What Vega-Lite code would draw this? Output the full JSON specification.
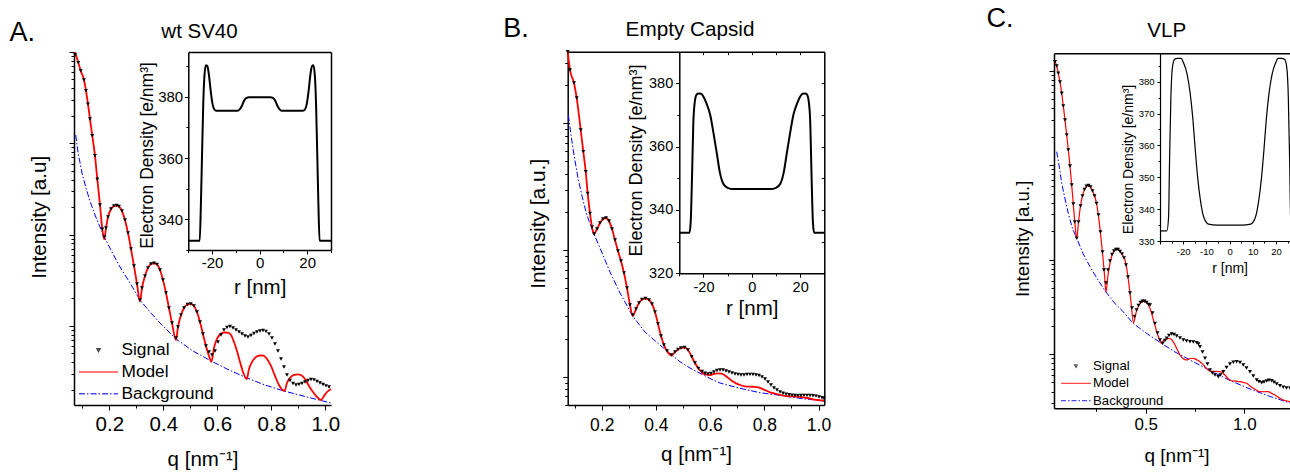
{
"$schema": "https://vega.github.io/schema/vega-lite/v6.json",
"width": 1290, "height": 473,
"autosize": {"type": "none"}, "padding": 0, "background": "white",
"config": {
  "view": {"stroke": null},
  "font": "Liberation Sans",
  "axis": {"grid": false, "labelFont": "Liberation Sans", "titleFont": "Liberation Sans", "labelColor": "#000", "titleColor": "#000", "domainColor": "#000", "tickColor": "#000", "titleFontWeight": "normal", "labelOverlap": false, "labelFlush": false, "domainWidth": 1.5, "tickWidth": 1, "minExtent": 0},
  "legend": {"labelFont": "Liberation Sans", "labelColor": "#000"}
},
"datasets": {
"A": [
{"series":"Signal","q":0.0733,"I":9270},{"series":"Signal","q":0.0852,"I":7640},{"series":"Signal","q":0.0941,"I":6240},{"series":"Signal","q":0.1063,"I":4930},{"series":"Signal","q":0.1137,"I":3770},{"series":"Signal","q":0.1211,"I":2690},{"series":"Signal","q":0.1285,"I":1845},{"series":"Signal","q":0.137,"I":1211},{"series":"Signal","q":0.147,"I":731},{"series":"Signal","q":0.1556,"I":404},{"series":"Signal","q":0.1656,"I":211},{"series":"Signal","q":0.1741,"I":114.3},{"series":"Signal","q":0.1815,"I":94.2},{"series":"Signal","q":0.1878,"I":118},{"series":"Signal","q":0.1952,"I":156},{"series":"Signal","q":0.2063,"I":190.6},{"series":"Signal","q":0.2174,"I":205.6},{"series":"Signal","q":0.2274,"I":208.4},{"series":"Signal","q":0.2359,"I":203.2},{"series":"Signal","q":0.247,"I":181.1},{"series":"Signal","q":0.2581,"I":144.5},{"series":"Signal","q":0.2693,"I":104.1},{"series":"Signal","q":0.2804,"I":69.5},{"series":"Signal","q":0.2915,"I":45.3},{"series":"Signal","q":0.3026,"I":28.8},{"series":"Signal","q":0.3137,"I":19.2},{"series":"Signal","q":0.3211,"I":26.0},{"series":"Signal","q":0.3322,"I":35.2},{"series":"Signal","q":0.3433,"I":43.1},{"series":"Signal","q":0.3544,"I":47.6},{"series":"Signal","q":0.3656,"I":48.5},{"series":"Signal","q":0.3767,"I":47.1},{"series":"Signal","q":0.3878,"I":40.9},{"series":"Signal","q":0.3989,"I":31.8},{"series":"Signal","q":0.41,"I":22.9},{"series":"Signal","q":0.4211,"I":15.7},{"series":"Signal","q":0.4322,"I":10.76},{"series":"Signal","q":0.447,"I":7.37},{"series":"Signal","q":0.4544,"I":9.72},{"series":"Signal","q":0.4656,"I":13.15},{"series":"Signal","q":0.4767,"I":15.7},{"series":"Signal","q":0.4896,"I":17.15},{"series":"Signal","q":0.5015,"I":17.38},{"series":"Signal","q":0.5137,"I":16.5},{"series":"Signal","q":0.5248,"I":14.2},{"series":"Signal","q":0.5359,"I":11.03},{"series":"Signal","q":0.547,"I":8.15},{"series":"Signal","q":0.5581,"I":6.03},{"series":"Signal","q":0.5693,"I":5.18},{"series":"Signal","q":0.5804,"I":4.8},{"series":"Signal","q":0.5915,"I":5.31},{"series":"Signal","q":0.6026,"I":6.66},{"series":"Signal","q":0.6137,"I":7.95},{"series":"Signal","q":0.6248,"I":9.02},{"series":"Signal","q":0.6359,"I":9.6},{"series":"Signal","q":0.647,"I":9.85},{"series":"Signal","q":0.6581,"I":9.48},{"series":"Signal","q":0.6693,"I":9.02},{"series":"Signal","q":0.6804,"I":8.58},{"series":"Signal","q":0.6915,"I":8.15},{"series":"Signal","q":0.7026,"I":7.75},{"series":"Signal","q":0.7137,"I":7.56},{"series":"Signal","q":0.7248,"I":7.85},{"series":"Signal","q":0.7359,"I":8.26},{"series":"Signal","q":0.747,"I":8.58},{"series":"Signal","q":0.7581,"I":8.8},{"series":"Signal","q":0.7693,"I":8.91},{"series":"Signal","q":0.7804,"I":8.69},{"series":"Signal","q":0.7915,"I":8.15},{"series":"Signal","q":0.8026,"I":7.37},{"series":"Signal","q":0.8137,"I":6.34},{"series":"Signal","q":0.8248,"I":5.31},{"series":"Signal","q":0.8359,"I":4.34},{"series":"Signal","q":0.847,"I":3.55},{"series":"Signal","q":0.8581,"I":2.9},{"series":"Signal","q":0.8693,"I":2.52},{"series":"Signal","q":0.8804,"I":2.34},{"series":"Signal","q":0.8915,"I":2.25},{"series":"Signal","q":0.9026,"I":2.28},{"series":"Signal","q":0.9137,"I":2.34},{"series":"Signal","q":0.9248,"I":2.43},{"series":"Signal","q":0.9359,"I":2.52},{"series":"Signal","q":0.947,"I":2.59},{"series":"Signal","q":0.9581,"I":2.56},{"series":"Signal","q":0.9693,"I":2.46},{"series":"Signal","q":0.9804,"I":2.37},{"series":"Signal","q":0.9915,"I":2.28},{"series":"Signal","q":1.0026,"I":2.2},{"series":"Signal","q":1.0137,"I":2.14},
{"series":"Model","q":0.073,"I":10000},{"series":"Model","q":0.0852,"I":7640},{"series":"Model","q":0.0941,"I":6240},{"series":"Model","q":0.1063,"I":4930},{"series":"Model","q":0.1137,"I":3770},{"series":"Model","q":0.1211,"I":2690},{"series":"Model","q":0.1285,"I":1845},{"series":"Model","q":0.137,"I":1211},{"series":"Model","q":0.147,"I":731},{"series":"Model","q":0.1556,"I":404},{"series":"Model","q":0.1656,"I":211},{"series":"Model","q":0.1741,"I":114.3},{"series":"Model","q":0.1815,"I":88.9},{"series":"Model","q":0.1878,"I":118},{"series":"Model","q":0.1952,"I":156},{"series":"Model","q":0.2063,"I":190.6},{"series":"Model","q":0.2174,"I":205.6},{"series":"Model","q":0.2274,"I":208.4},{"series":"Model","q":0.2359,"I":203.2},{"series":"Model","q":0.247,"I":181.1},{"series":"Model","q":0.2581,"I":144.5},{"series":"Model","q":0.2693,"I":104.1},{"series":"Model","q":0.2804,"I":69.5},{"series":"Model","q":0.2915,"I":45.3},{"series":"Model","q":0.3026,"I":28.8},{"series":"Model","q":0.3137,"I":18.4},{"series":"Model","q":0.3211,"I":26.0},{"series":"Model","q":0.3322,"I":35.2},{"series":"Model","q":0.3433,"I":43.1},{"series":"Model","q":0.3544,"I":47.6},{"series":"Model","q":0.3656,"I":48.5},{"series":"Model","q":0.3767,"I":47.1},{"series":"Model","q":0.3878,"I":40.9},{"series":"Model","q":0.3989,"I":31.8},{"series":"Model","q":0.41,"I":22.9},{"series":"Model","q":0.4211,"I":15.7},{"series":"Model","q":0.4322,"I":10.76},{"series":"Model","q":0.447,"I":7.01},{"series":"Model","q":0.4544,"I":9.72},{"series":"Model","q":0.4656,"I":13.15},{"series":"Model","q":0.4767,"I":15.7},{"series":"Model","q":0.4896,"I":17.15},{"series":"Model","q":0.5015,"I":17.38},{"series":"Model","q":0.5137,"I":16.5},{"series":"Model","q":0.5248,"I":14.2},{"series":"Model","q":0.5359,"I":11.03},{"series":"Model","q":0.547,"I":8.15},{"series":"Model","q":0.5581,"I":6.03},{"series":"Model","q":0.5693,"I":4.68},{"series":"Model","q":0.5785,"I":4.05},{"series":"Model","q":0.5878,"I":5.73},{"series":"Model","q":0.5989,"I":7.19},{"series":"Model","q":0.61,"I":8.05},{"series":"Model","q":0.6248,"I":8.47},{"series":"Model","q":0.6385,"I":8.42},{"series":"Model","q":0.6507,"I":7.95},{"series":"Model","q":0.6619,"I":6.66},{"series":"Model","q":0.673,"I":5.31},{"series":"Model","q":0.6841,"I":4.02},{"series":"Model","q":0.6952,"I":3.13},{"series":"Model","q":0.7089,"I":2.62},{"series":"Model","q":0.7174,"I":3.37},{"series":"Model","q":0.7285,"I":4.02},{"series":"Model","q":0.7433,"I":4.56},{"series":"Model","q":0.7581,"I":4.74},{"series":"Model","q":0.7704,"I":4.72},{"series":"Model","q":0.7841,"I":4.34},{"series":"Model","q":0.7989,"I":3.64},{"series":"Model","q":0.8137,"I":2.83},{"series":"Model","q":0.8285,"I":2.25},{"series":"Model","q":0.8489,"I":1.936},{"series":"Model","q":0.8581,"I":2.37},{"series":"Model","q":0.8693,"I":2.69},{"series":"Model","q":0.8841,"I":2.9},{"series":"Model","q":0.8989,"I":2.95},{"series":"Model","q":0.91,"I":2.9},{"series":"Model","q":0.9248,"I":2.62},{"series":"Model","q":0.9396,"I":2.2},{"series":"Model","q":0.9544,"I":1.888},{"series":"Model","q":0.9693,"I":1.664},{"series":"Model","q":0.9841,"I":1.543},{"series":"Model","q":0.9952,"I":1.707},{"series":"Model","q":1.0063,"I":1.888},{"series":"Model","q":1.0211,"I":2.04},
{"series":"Background","q":0.0756,"I":1233},{"series":"Background","q":0.0841,"I":803},{"series":"Background","q":0.0989,"I":473},{"series":"Background","q":0.1137,"I":324},{"series":"Background","q":0.1285,"I":233},{"series":"Background","q":0.147,"I":164},{"series":"Background","q":0.1656,"I":121},{"series":"Background","q":0.1841,"I":90.6},{"series":"Background","q":0.21,"I":64.5},{"series":"Background","q":0.2396,"I":44.2},{"series":"Background","q":0.2767,"I":29.5},{"series":"Background","q":0.3137,"I":19.2},{"series":"Background","q":0.3507,"I":14.2},{"series":"Background","q":0.3878,"I":10.76},{"series":"Background","q":0.447,"I":7.19},{"series":"Background","q":0.51,"I":5.31},{"series":"Background","q":0.5767,"I":4.13},{"series":"Background","q":0.6433,"I":3.29},{"series":"Background","q":0.71,"I":2.69},{"series":"Background","q":0.7767,"I":2.25},{"series":"Background","q":0.847,"I":1.936},{"series":"Background","q":0.9322,"I":1.664},{"series":"Background","q":1.0211,"I":1.43}
],
"Ap": [
{"r":-30,"rho":333},{"r":-25.2,"rho":333},{"r":-24.7,"rho":345},{"r":-24.2,"rho":362},{"r":-23.7,"rho":378},{"r":-23.2,"rho":387},{"r":-22.6,"rho":390.3},{"r":-22,"rho":390},{"r":-21.3,"rho":387},{"r":-20.6,"rho":382},{"r":-19.8,"rho":377.6},{"r":-19,"rho":375.8},{"r":-18,"rho":375.4},{"r":-9.5,"rho":375.4},{"r":-8.5,"rho":375.8},{"r":-7.5,"rho":377},{"r":-6.5,"rho":378.8},{"r":-5.5,"rho":379.6},{"r":-4.5,"rho":379.8},{"r":4.5,"rho":379.8},{"r":5.5,"rho":379.6},{"r":6.5,"rho":378.8},{"r":7.5,"rho":377},{"r":8.5,"rho":375.8},{"r":9.5,"rho":375.4},{"r":18,"rho":375.4},{"r":19,"rho":375.8},{"r":19.8,"rho":377.6},{"r":20.6,"rho":382},{"r":21.3,"rho":387},{"r":22,"rho":390},{"r":22.6,"rho":390.3},{"r":23.2,"rho":387},{"r":23.7,"rho":378},{"r":24.2,"rho":362},{"r":24.7,"rho":345},{"r":25.2,"rho":333},{"r":30,"rho":333}
],
"B": [
{"series":"Signal","q":0.0745,"I":3673},{"series":"Signal","q":0.083,"I":2636},{"series":"Signal","q":0.0978,"I":2080},{"series":"Signal","q":0.1077,"I":1584},{"series":"Signal","q":0.1225,"I":885},{"series":"Signal","q":0.1321,"I":597},{"series":"Signal","q":0.141,"I":415},{"series":"Signal","q":0.1483,"I":280},{"series":"Signal","q":0.1568,"I":194.8},{"series":"Signal","q":0.1642,"I":151.9},{"series":"Signal","q":0.1716,"I":133.7},{"series":"Signal","q":0.1827,"I":146.4},{"series":"Signal","q":0.1937,"I":163.3},{"series":"Signal","q":0.2048,"I":175.7},{"series":"Signal","q":0.2159,"I":178.9},{"series":"Signal","q":0.2269,"I":169.4},{"series":"Signal","q":0.238,"I":146.4},{"series":"Signal","q":0.2491,"I":119.9},{"series":"Signal","q":0.2601,"I":98.2},{"series":"Signal","q":0.2712,"I":81.9},{"series":"Signal","q":0.2823,"I":65.8},{"series":"Signal","q":0.2934,"I":50.1},{"series":"Signal","q":0.3044,"I":36.8},{"series":"Signal","q":0.3144,"I":30.7},{"series":"Signal","q":0.3266,"I":34.2},{"series":"Signal","q":0.3376,"I":38.2},{"series":"Signal","q":0.3487,"I":40.7},{"series":"Signal","q":0.3616,"I":41.4},{"series":"Signal","q":0.3745,"I":40.3},{"series":"Signal","q":0.3856,"I":37.5},{"series":"Signal","q":0.3967,"I":32.4},{"series":"Signal","q":0.4077,"I":26.1},{"series":"Signal","q":0.4188,"I":20.96},{"series":"Signal","q":0.4299,"I":17.79},{"series":"Signal","q":0.441,"I":15.95},{"series":"Signal","q":0.4576,"I":14.84},{"series":"Signal","q":0.4705,"I":15.67},{"series":"Signal","q":0.4815,"I":16.4},{"series":"Signal","q":0.4926,"I":16.85},{"series":"Signal","q":0.5055,"I":17.0},{"series":"Signal","q":0.5185,"I":16.25},{"series":"Signal","q":0.5321,"I":14.38},{"series":"Signal","q":0.5443,"I":12.83},{"series":"Signal","q":0.5565,"I":11.65},{"series":"Signal","q":0.5701,"I":10.99},{"series":"Signal","q":0.5812,"I":10.64},{"series":"Signal","q":0.5923,"I":10.5},{"series":"Signal","q":0.6033,"I":10.6},{"series":"Signal","q":0.6144,"I":10.89},{"series":"Signal","q":0.6255,"I":11.19},{"series":"Signal","q":0.6365,"I":11.29},{"series":"Signal","q":0.6476,"I":11.29},{"series":"Signal","q":0.6587,"I":11.09},{"series":"Signal","q":0.6697,"I":10.89},{"series":"Signal","q":0.6808,"I":10.7},{"series":"Signal","q":0.6919,"I":10.5},{"series":"Signal","q":0.703,"I":10.41},{"series":"Signal","q":0.714,"I":10.31},{"series":"Signal","q":0.7251,"I":10.31},{"series":"Signal","q":0.7362,"I":10.41},{"series":"Signal","q":0.7472,"I":10.44},{"series":"Signal","q":0.7583,"I":10.41},{"series":"Signal","q":0.7694,"I":10.31},{"series":"Signal","q":0.7804,"I":10.22},{"series":"Signal","q":0.7915,"I":9.95},{"series":"Signal","q":0.8026,"I":9.59},{"series":"Signal","q":0.8137,"I":9.08},{"series":"Signal","q":0.8247,"I":8.6},{"series":"Signal","q":0.8358,"I":8.14},{"series":"Signal","q":0.8469,"I":7.85},{"series":"Signal","q":0.8579,"I":7.57},{"series":"Signal","q":0.869,"I":7.4},{"series":"Signal","q":0.8801,"I":7.28},{"series":"Signal","q":0.8911,"I":7.2},{"series":"Signal","q":0.9022,"I":7.14},{"series":"Signal","q":0.9133,"I":7.11},{"series":"Signal","q":0.9244,"I":7.08},{"series":"Signal","q":0.9354,"I":7.11},{"series":"Signal","q":0.9465,"I":7.13},{"series":"Signal","q":0.9576,"I":7.13},{"series":"Signal","q":0.9686,"I":7.11},{"series":"Signal","q":0.9797,"I":7.08},{"series":"Signal","q":0.9908,"I":7.02},{"series":"Signal","q":1.0018,"I":6.92},{"series":"Signal","q":1.0129,"I":6.82},{"series":"Signal","q":1.0203,"I":6.75},
{"series":"Model","q":0.0745,"I":3673},{"series":"Model","q":0.083,"I":2636},{"series":"Model","q":0.0978,"I":2080},{"series":"Model","q":0.1077,"I":1584},{"series":"Model","q":0.1225,"I":885},{"series":"Model","q":0.1321,"I":597},{"series":"Model","q":0.141,"I":415},{"series":"Model","q":0.1483,"I":280},{"series":"Model","q":0.1568,"I":194.8},{"series":"Model","q":0.1642,"I":151.9},{"series":"Model","q":0.1716,"I":133.7},{"series":"Model","q":0.1827,"I":146.4},{"series":"Model","q":0.1937,"I":163.3},{"series":"Model","q":0.2048,"I":175.7},{"series":"Model","q":0.2159,"I":178.9},{"series":"Model","q":0.2269,"I":169.4},{"series":"Model","q":0.238,"I":146.4},{"series":"Model","q":0.2491,"I":119.9},{"series":"Model","q":0.2601,"I":98.2},{"series":"Model","q":0.2712,"I":81.9},{"series":"Model","q":0.2823,"I":65.8},{"series":"Model","q":0.2934,"I":50.1},{"series":"Model","q":0.3044,"I":36.8},{"series":"Model","q":0.3144,"I":30.1},{"series":"Model","q":0.3266,"I":34.2},{"series":"Model","q":0.3376,"I":38.2},{"series":"Model","q":0.3487,"I":40.7},{"series":"Model","q":0.3616,"I":41.4},{"series":"Model","q":0.3745,"I":40.3},{"series":"Model","q":0.3856,"I":37.5},{"series":"Model","q":0.3967,"I":32.4},{"series":"Model","q":0.4077,"I":26.1},{"series":"Model","q":0.4188,"I":20.96},{"series":"Model","q":0.4299,"I":17.79},{"series":"Model","q":0.441,"I":15.95},{"series":"Model","q":0.4576,"I":14.7},{"series":"Model","q":0.4705,"I":15.67},{"series":"Model","q":0.4815,"I":16.4},{"series":"Model","q":0.4926,"I":16.85},{"series":"Model","q":0.5055,"I":17.0},{"series":"Model","q":0.5185,"I":16.25},{"series":"Model","q":0.5321,"I":14.38},{"series":"Model","q":0.5443,"I":12.83},{"series":"Model","q":0.5565,"I":11.65},{"series":"Model","q":0.5683,"I":10.89},{"series":"Model","q":0.5812,"I":10.44},{"series":"Model","q":0.5996,"I":10.31},{"series":"Model","q":0.6107,"I":10.46},{"series":"Model","q":0.6244,"I":10.64},{"series":"Model","q":0.6428,"I":10.56},{"series":"Model","q":0.6613,"I":10.0},{"series":"Model","q":0.6856,"I":9.13},{"series":"Model","q":0.7103,"I":8.6},{"series":"Model","q":0.7288,"I":8.4},{"series":"Model","q":0.7472,"I":8.34},{"series":"Model","q":0.7657,"I":8.32},{"series":"Model","q":0.7779,"I":8.25},{"series":"Model","q":0.7963,"I":7.95},{"series":"Model","q":0.821,"I":7.53},{"series":"Model","q":0.8458,"I":7.3},{"series":"Model","q":0.8827,"I":7.04},{"series":"Model","q":0.9196,"I":6.95},{"series":"Model","q":0.9565,"I":6.79},{"series":"Model","q":0.9934,"I":6.55},{"series":"Model","q":1.0203,"I":6.47},
{"series":"Background","q":0.0768,"I":1163},{"series":"Background","q":0.0867,"I":808},{"series":"Background","q":0.0978,"I":562},{"series":"Background","q":0.1125,"I":370},{"series":"Background","q":0.1273,"I":267},{"series":"Background","q":0.1421,"I":199.5},{"series":"Background","q":0.1568,"I":160.4},{"series":"Background","q":0.1716,"I":133.7},{"series":"Background","q":0.1937,"I":103.7},{"series":"Background","q":0.2306,"I":67.1},{"series":"Background","q":0.2675,"I":45.8},{"series":"Background","q":0.3144,"I":30.1},{"series":"Background","q":0.3598,"I":22.5},{"series":"Background","q":0.4151,"I":17.79},{"series":"Background","q":0.4583,"I":14.84},{"series":"Background","q":0.4889,"I":13.13},{"series":"Background","q":0.5258,"I":11.71},{"series":"Background","q":0.5627,"I":10.64},{"series":"Background","q":0.5996,"I":9.68},{"series":"Background","q":0.6365,"I":8.92},{"series":"Background","q":0.7103,"I":8.1},{"series":"Background","q":0.7841,"I":7.48},{"series":"Background","q":0.8579,"I":7.13},{"series":"Background","q":0.9317,"I":6.75},{"series":"Background","q":1.0203,"I":6.43}
],
"Bp": [
{"r":-30,"rho":332.8},{"r":-25.8,"rho":332.8},{"r":-25.3,"rho":336},{"r":-24.7,"rho":351.6},{"r":-24.2,"rho":367.4},{"r":-23.5,"rho":374.7},{"r":-22.8,"rho":376.5},{"r":-22.1,"rho":376.8},{"r":-21,"rho":376.7},{"r":-20,"rho":375.8},{"r":-18.7,"rho":373.6},{"r":-17.2,"rho":370},{"r":-15.9,"rho":364.5},{"r":-14.5,"rho":358},{"r":-13.2,"rho":351.8},{"r":-11.8,"rho":348.3},{"r":-10,"rho":347},{"r":-7.7,"rho":346.6},{"r":7.7,"rho":346.6},{"r":10,"rho":347},{"r":11.8,"rho":348.3},{"r":13.2,"rho":351.8},{"r":14.5,"rho":358},{"r":15.9,"rho":364.5},{"r":17.2,"rho":370},{"r":18.7,"rho":373.6},{"r":20,"rho":375.8},{"r":21,"rho":376.7},{"r":22.1,"rho":376.8},{"r":22.8,"rho":376.5},{"r":23.5,"rho":374.7},{"r":24.2,"rho":367.4},{"r":24.7,"rho":351.6},{"r":25.3,"rho":336},{"r":25.8,"rho":332.8},{"r":30,"rho":332.8}
],
"C": [
{"series":"Signal","q":0.0403,"I":12450},{"series":"Signal","q":0.0489,"I":11215},{"series":"Signal","q":0.057,"I":9385},{"series":"Signal","q":0.0656,"I":7595},{"series":"Signal","q":0.0743,"I":5763},{"series":"Signal","q":0.0824,"I":4229},{"series":"Signal","q":0.091,"I":3006},{"series":"Signal","q":0.0996,"I":2084},{"series":"Signal","q":0.1077,"I":1446},{"series":"Signal","q":0.1163,"I":979},{"series":"Signal","q":0.1249,"I":616},{"series":"Signal","q":0.133,"I":388},{"series":"Signal","q":0.1406,"I":250},{"series":"Signal","q":0.1503,"I":168},{"series":"Signal","q":0.1594,"I":250},{"series":"Signal","q":0.1695,"I":369},{"series":"Signal","q":0.1797,"I":471},{"series":"Signal","q":0.1898,"I":552},{"series":"Signal","q":0.2,"I":597},{"series":"Signal","q":0.2101,"I":609},{"series":"Signal","q":0.2202,"I":587},{"series":"Signal","q":0.2304,"I":532},{"series":"Signal","q":0.2405,"I":471},{"series":"Signal","q":0.2506,"I":392},{"series":"Signal","q":0.2608,"I":296},{"series":"Signal","q":0.2709,"I":196},{"series":"Signal","q":0.281,"I":120},{"series":"Signal","q":0.2886,"I":77.5},{"series":"Signal","q":0.2988,"I":56.5},{"series":"Signal","q":0.3089,"I":77.5},{"series":"Signal","q":0.3191,"I":96.6},{"series":"Signal","q":0.3292,"I":113},{"series":"Signal","q":0.3393,"I":123},{"series":"Signal","q":0.3495,"I":128},{"series":"Signal","q":0.3596,"I":128},{"series":"Signal","q":0.3697,"I":122},{"series":"Signal","q":0.3799,"I":114.5},{"series":"Signal","q":0.39,"I":104},{"series":"Signal","q":0.4002,"I":87.6},{"series":"Signal","q":0.4103,"I":65.4},{"series":"Signal","q":0.4204,"I":44.2},{"series":"Signal","q":0.4306,"I":30.7},{"series":"Signal","q":0.4432,"I":24.9},{"series":"Signal","q":0.4534,"I":29.2},{"series":"Signal","q":0.4635,"I":32.6},{"series":"Signal","q":0.4736,"I":35.1},{"series":"Signal","q":0.4838,"I":36.1},{"series":"Signal","q":0.4939,"I":36.1},{"series":"Signal","q":0.5041,"I":35.1},{"series":"Signal","q":0.5142,"I":33.4},{"series":"Signal","q":0.5218,"I":33.0},{"series":"Signal","q":0.5345,"I":27.2},{"series":"Signal","q":0.5471,"I":21.1},{"series":"Signal","q":0.5598,"I":16.7},{"series":"Signal","q":0.5725,"I":14.07},{"series":"Signal","q":0.5862,"I":12.98},{"series":"Signal","q":0.5978,"I":13.9},{"series":"Signal","q":0.6064,"I":14.66},{"series":"Signal","q":0.6181,"I":15.7},{"series":"Signal","q":0.6318,"I":16.28},{"series":"Signal","q":0.6434,"I":16.09},{"series":"Signal","q":0.6571,"I":15.51},{"series":"Signal","q":0.6738,"I":14.77},{"series":"Signal","q":0.6906,"I":14.07},{"series":"Signal","q":0.7068,"I":13.73},{"series":"Signal","q":0.7245,"I":13.5},{"series":"Signal","q":0.7413,"I":13.4},{"series":"Signal","q":0.7585,"I":13.17},{"series":"Signal","q":0.7676,"I":12.76},{"series":"Signal","q":0.7752,"I":11.95},{"series":"Signal","q":0.7879,"I":10.5},{"series":"Signal","q":0.8006,"I":9.0},{"series":"Signal","q":0.8132,"I":7.83},{"series":"Signal","q":0.8259,"I":6.77},{"series":"Signal","q":0.8386,"I":6.29},{"series":"Signal","q":0.8512,"I":5.99},{"series":"Signal","q":0.868,"I":5.75},{"series":"Signal","q":0.8791,"I":5.99},{"series":"Signal","q":0.8933,"I":6.49},{"series":"Signal","q":0.9095,"I":7.19},{"series":"Signal","q":0.9273,"I":7.83},{"series":"Signal","q":0.944,"I":8.17},{"series":"Signal","q":0.9612,"I":8.29},{"series":"Signal","q":0.978,"I":8.13},{"series":"Signal","q":0.9947,"I":7.64},{"series":"Signal","q":1.0109,"I":7.11},{"series":"Signal","q":1.0286,"I":6.49},{"series":"Signal","q":1.0454,"I":5.85},{"series":"Signal","q":1.0626,"I":5.3},{"series":"Signal","q":1.0742,"I":5.08},{"series":"Signal","q":1.0879,"I":4.97},{"series":"Signal","q":1.0996,"I":5.05},{"series":"Signal","q":1.1133,"I":5.18},{"series":"Signal","q":1.1249,"I":5.28},{"series":"Signal","q":1.1386,"I":5.21},{"series":"Signal","q":1.1503,"I":5.01},{"series":"Signal","q":1.164,"I":4.81},{"series":"Signal","q":1.1807,"I":4.62},{"series":"Signal","q":1.1974,"I":4.44},{"series":"Signal","q":1.2136,"I":4.36},{"series":"Signal","q":1.2314,"I":4.33},
{"series":"Model","q":0.0403,"I":12450},{"series":"Model","q":0.0489,"I":11215},{"series":"Model","q":0.057,"I":9385},{"series":"Model","q":0.0656,"I":7595},{"series":"Model","q":0.0743,"I":5763},{"series":"Model","q":0.0824,"I":4229},{"series":"Model","q":0.091,"I":3006},{"series":"Model","q":0.0996,"I":2084},{"series":"Model","q":0.1077,"I":1446},{"series":"Model","q":0.1163,"I":979},{"series":"Model","q":0.1249,"I":616},{"series":"Model","q":0.133,"I":388},{"series":"Model","q":0.1406,"I":250},{"series":"Model","q":0.1503,"I":168},{"series":"Model","q":0.1594,"I":250},{"series":"Model","q":0.1695,"I":369},{"series":"Model","q":0.1822,"I":495},{"series":"Model","q":0.1949,"I":580},{"series":"Model","q":0.2076,"I":609},{"series":"Model","q":0.2202,"I":587},{"series":"Model","q":0.2329,"I":519},{"series":"Model","q":0.243,"I":460},{"series":"Model","q":0.2532,"I":369},{"series":"Model","q":0.2633,"I":262},{"series":"Model","q":0.2734,"I":169},{"series":"Model","q":0.2836,"I":104},{"series":"Model","q":0.2912,"I":68.6},{"series":"Model","q":0.2988,"I":45.3},{"series":"Model","q":0.3089,"I":68.6},{"series":"Model","q":0.3191,"I":91.9},{"series":"Model","q":0.3317,"I":114.5},{"series":"Model","q":0.3444,"I":126},{"series":"Model","q":0.3545,"I":128.4},{"series":"Model","q":0.3672,"I":124.7},{"series":"Model","q":0.3799,"I":114.5},{"series":"Model","q":0.3951,"I":98.9},{"series":"Model","q":0.4052,"I":77.5},{"series":"Model","q":0.4154,"I":53.8},{"series":"Model","q":0.4255,"I":35.5},{"series":"Model","q":0.4382,"I":21.3},{"series":"Model","q":0.4508,"I":27.2},{"series":"Model","q":0.4635,"I":32.2},{"series":"Model","q":0.4762,"I":35.1},{"series":"Model","q":0.4914,"I":36.0},{"series":"Model","q":0.5041,"I":35.1},{"series":"Model","q":0.5167,"I":32.2},{"series":"Model","q":0.5294,"I":27.2},{"series":"Model","q":0.5421,"I":21.8},{"series":"Model","q":0.5558,"I":17.2},{"series":"Model","q":0.5674,"I":14.59},{"series":"Model","q":0.5811,"I":12.98},{"series":"Model","q":0.5928,"I":14.07},{"series":"Model","q":0.6064,"I":14.41},{"series":"Model","q":0.6181,"I":14.59},{"series":"Model","q":0.6308,"I":14.23},{"series":"Model","q":0.6434,"I":13.07},{"series":"Model","q":0.6586,"I":11.29},{"series":"Model","q":0.6738,"I":9.76},{"series":"Model","q":0.6891,"I":8.96},{"series":"Model","q":0.7078,"I":8.64},{"series":"Model","q":0.7245,"I":8.96},{"series":"Model","q":0.7413,"I":9.0},{"series":"Model","q":0.76,"I":8.64},{"series":"Model","q":0.7752,"I":8.29},{"series":"Model","q":0.7955,"I":7.55},{"series":"Model","q":0.8173,"I":6.77},{"series":"Model","q":0.831,"I":6.53},{"series":"Model","q":0.8512,"I":6.53},{"series":"Model","q":0.8766,"I":6.49},{"series":"Model","q":0.9019,"I":5.99},{"series":"Model","q":0.9171,"I":5.5},{"series":"Model","q":0.9359,"I":5.21},{"series":"Model","q":0.9577,"I":5.15},{"series":"Model","q":0.978,"I":5.09},{"series":"Model","q":0.9932,"I":5.01},{"series":"Model","q":1.0119,"I":4.89},{"series":"Model","q":1.0286,"I":4.58},{"series":"Model","q":1.0454,"I":4.33},{"series":"Model","q":1.0626,"I":4.13},{"series":"Model","q":1.0793,"I":3.99},{"series":"Model","q":1.0996,"I":3.98},{"series":"Model","q":1.1214,"I":3.99},{"series":"Model","q":1.1376,"I":3.83},{"series":"Model","q":1.1553,"I":3.68},{"series":"Model","q":1.1756,"I":3.44},{"series":"Model","q":1.1974,"I":3.26},{"series":"Model","q":1.2162,"I":3.18},{"series":"Model","q":1.2314,"I":3.13},
{"series":"Background","q":0.0489,"I":1388},{"series":"Background","q":0.0606,"I":1003},{"series":"Background","q":0.0743,"I":642},{"series":"Background","q":0.091,"I":438},{"series":"Background","q":0.1077,"I":309},{"series":"Background","q":0.1265,"I":221},{"series":"Background","q":0.1503,"I":168},{"series":"Background","q":0.1822,"I":116},{"series":"Background","q":0.2177,"I":84},{"series":"Background","q":0.2582,"I":60.8},{"series":"Background","q":0.2988,"I":45.3},{"series":"Background","q":0.3393,"I":35.1},{"series":"Background","q":0.3865,"I":28},{"series":"Background","q":0.4372,"I":21},{"series":"Background","q":0.5091,"I":16.3},{"series":"Background","q":0.5811,"I":12.9},{"series":"Background","q":0.6485,"I":10.5},{"series":"Background","q":0.7245,"I":8.64},{"series":"Background","q":0.8259,"I":6.69},{"series":"Background","q":0.9273,"I":5.24},{"series":"Background","q":1.0286,"I":4.26},{"series":"Background","q":1.13,"I":3.55},{"series":"Background","q":1.2314,"I":3.03}
],
"Cp": [
{"r":-30,"rho":333.2},{"r":-27,"rho":333.2},{"r":-26.3,"rho":337.6},{"r":-25.9,"rho":354.4},{"r":-25.3,"rho":375.3},{"r":-24.6,"rho":384.7},{"r":-23.7,"rho":387},{"r":-22.5,"rho":387.3},{"r":-20.9,"rho":387.3},{"r":-19.8,"rho":385.8},{"r":-18.4,"rho":382.6},{"r":-17,"rho":376.4},{"r":-15.8,"rho":368},{"r":-14.8,"rho":358.6},{"r":-13.8,"rho":350.2},{"r":-12.6,"rho":342.9},{"r":-11.2,"rho":337.6},{"r":-9.1,"rho":335.3},{"r":-5.4,"rho":335},{"r":5.4,"rho":335},{"r":9.1,"rho":335.3},{"r":11.2,"rho":337.6},{"r":12.6,"rho":342.9},{"r":13.8,"rho":350.2},{"r":14.8,"rho":358.6},{"r":15.8,"rho":368},{"r":17,"rho":376.4},{"r":18.4,"rho":382.6},{"r":19.8,"rho":385.8},{"r":20.9,"rho":387.3},{"r":22.5,"rho":387.3},{"r":23.7,"rho":387},{"r":24.6,"rho":384.7},{"r":25.3,"rho":375.3},{"r":25.9,"rho":354.4},{"r":26.3,"rho":337.6},{"r":27,"rho":333.2},{"r":30,"rho":333.2}
]
},
"layer": [
{"data": {"name": "A"}, "transform": [{"filter": "datum.series === 'Background'"}],
 "mark": {"type": "line", "color": "#0000ff", "strokeWidth": 1, "strokeDash": [6, 2, 1.5, 2]},
 "encoding": {
  "x": {"field": "q", "type": "quantitative", "scale": {"domain": [0.0693, 1.0211], "range": [74, 331], "nice": false, "zero": false},
        "axis": {"orient": "top", "offset": -52, "domain": false, "ticks": false, "labels": false, "title": "A.", "titleFontSize": 27, "titleX": 9, "titleAlign": "left", "titleBaseline": "alphabetic", "titlePadding": 11.3}},
  "y": {"field": "I", "type": "quantitative", "scale": {"type": "log", "domain": [1.36, 10000], "range": [405, 52], "nice": false}, "axis": null}
 }},
{"data": {"name": "A"}, "transform": [{"filter": "datum.series === 'Model'"}],
 "mark": {"type": "line", "color": "#ff0000", "strokeWidth": 1.8, "interpolate": "monotone"},
 "encoding": {
  "x": {"field": "q", "type": "quantitative", "scale": {"domain": [0.0693, 1.0211], "range": [74, 331], "nice": false, "zero": false},
        "axis": {"orient": "top", "offset": -52, "domain": false, "ticks": false, "labels": false, "title": "wt SV40", "titleFontSize": 20.5, "titleX": 199, "titleAlign": "center", "titleBaseline": "alphabetic", "titlePadding": 14.7}},
  "y": {"field": "I", "type": "quantitative", "scale": {"type": "log", "domain": [1.36, 10000], "range": [405, 52], "nice": false}, "axis": null}
 }},
{"data": {"name": "A"}, "transform": [{"filter": "datum.series === 'Signal'"}],
 "mark": {"type": "point", "shape": "triangle-down", "filled": true, "size": 15, "opacity": 1, "color": "#000000"},
 "encoding": {
  "x": {"field": "q", "type": "quantitative", "scale": {"domain": [0.0693, 1.0211], "range": [74, 331], "nice": false, "zero": false},
        "axis": {"orient": "bottom", "offset": -68, "values": [0.1,0.2,0.3,0.4,0.5,0.6,0.7,0.8,0.9,1.0],
                 "labelExpr": "round(datum.value*10) % 2 === 0 ? format(datum.value, '.1f') : ''",
                 "tickSize": {"condition": {"test": "round(datum.value*10) % 2 === 0", "value": 5}, "value": 3},
                 "labelFontSize": 20.5, "labelPadding": 4.5, "title": "q [nm⁻¹]", "titleFontSize": 20.5, "titlePadding": 14}},
  "y": {"field": "I", "type": "quantitative", "scale": {"type": "log", "domain": [1.36, 10000], "range": [405, 52], "nice": false},
        "axis": {"orient": "left", "offset": -74, "values": [2,3,4,5,6,7,8,9,10,20,30,40,50,60,70,80,90,100,200,300,400,500,600,700,800,900,1000,2000,3000,4000,5000,6000,7000,8000,9000,10000],
                 "labels": false, "tickSize": {"condition": {"test": "abs(log(datum.value)/LN10 - round(log(datum.value)/LN10)) < 0.001", "value": 5}, "value": 3},
                 "title": "Intensity [a.u]", "titleFontSize": 20.7, "titlePadding": 19.5, "titleY": 216.7}}
 }},
{"data": {"name": "Ap"},
 "mark": {"type": "line", "color": "#000000", "strokeWidth": 2, "interpolate": "monotone"},
 "encoding": {
  "x": {"field": "r", "type": "quantitative", "scale": {"domain": [-30, 30], "range": [188.3, 331], "nice": false, "zero": false},
        "axis": {"orient": "bottom", "offset": -223, "values": [-30,-20,-10,0,10,20,30],
                 "labelExpr": "datum.value % 20 === 0 ? '' + datum.value : ''",
                 "tickSize": {"condition": {"test": "datum.value % 20 === 0", "value": 4}, "value": 2.5},
                 "labelFontSize": 15, "labelPadding": 1.5, "title": "r [nm]", "titleFontSize": 20.5, "titlePadding": 7.3}},
  "y": {"field": "rho", "type": "quantitative", "scale": {"domain": [330, 394.6], "range": [250, 52], "nice": false, "zero": false},
        "axis": {"orient": "left", "offset": -188.3, "values": [330,340,350,360,370,380,390],
                 "labelExpr": "datum.value % 20 === 0 ? '' + datum.value : ''",
                 "tickSize": {"condition": {"test": "datum.value % 20 === 0", "value": 4}, "value": 2.5},
                 "labelFontSize": 15, "labelPadding": 1.6, "title": "Electron Density [e/nm³]", "titleFontSize": 17.5, "titlePadding": 1, "titleY": 155}}
 }},
{"data": {"name": "Ap"},
 "mark": {"type": "line", "opacity": 0},
 "encoding": {
  "x": {"field": "r", "type": "quantitative", "scale": {"domain": [-30, 30], "range": [188.3, 331], "nice": false, "zero": false},
        "axis": {"orient": "top", "offset": -52, "ticks": false, "labels": false, "title": null}},
  "y": {"field": "rho", "type": "quantitative", "scale": {"domain": [330, 394.6], "range": [250, 52], "nice": false, "zero": false},
        "axis": {"orient": "right", "offset": -959, "ticks": false, "labels": false, "title": null}}
 }},
{"data": {"name": "A"}, "transform": [{"filter": "datum.q < 0"}],
 "mark": {"type": "point", "filled": false, "strokeWidth": 1.5},
 "encoding": {
  "x": {"field": "q", "type": "quantitative", "scale": {"domain": [0.0693, 1.0211], "range": [74, 331], "nice": false, "zero": false}, "axis": null},
  "y": {"field": "I", "type": "quantitative", "scale": {"type": "log", "domain": [1.36, 10000], "range": [405, 52], "nice": false}, "axis": null},
  "color": {"field": "series", "type": "nominal", "scale": {"domain": ["Signal", "Model", "Background"], "range": ["#000000", "#ff0000", "#0000ff"]},
            "legend": {"orient": "none", "legendX": 88, "legendY": 339.5, "title": null, "padding": 0, "symbolSize": 380, "symbolStrokeWidth": 1.5, "labelFontSize": 17.3, "labelOffset": 12.5, "rowPadding": 2.9}},
  "shape": {"field": "series", "type": "nominal", "scale": {"domain": ["Signal", "Model", "Background"], "range": ["M-0.15,-0.12L0.15,-0.12L0,0.15Z", "M-2,0H2", "M-2,0H2"]},
            "legend": {"orient": "none", "legendX": 88, "legendY": 339.5, "title": null, "padding": 0, "symbolSize": 380, "symbolStrokeWidth": 1.5, "labelFontSize": 17.3, "labelOffset": 12.5, "rowPadding": 2.9}},
  "strokeDash": {"field": "series", "type": "nominal", "scale": {"domain": ["Signal", "Model", "Background"], "range": [[1, 0], [1, 0], [6, 2, 1.5, 2]]},
            "legend": {"orient": "none", "legendX": 88, "legendY": 339.5, "title": null, "padding": 0, "symbolSize": 380, "symbolStrokeWidth": 1.5, "labelFontSize": 17.3, "labelOffset": 12.5, "rowPadding": 2.9}}
 }},
{"data": {"name": "B"}, "transform": [{"filter": "datum.series === 'Background'"}],
 "mark": {"type": "line", "color": "#0000ff", "strokeWidth": 1, "strokeDash": [6, 2, 1.5, 2]},
 "encoding": {
  "x": {"field": "q", "type": "quantitative", "scale": {"domain": [0.0745, 1.0214], "range": [567.7, 824.3], "nice": false, "zero": false},
        "axis": {"orient": "top", "offset": -51.7, "domain": false, "ticks": false, "labels": false, "title": "B.", "titleFontSize": 27, "titleX": 502.7, "titleAlign": "left", "titleBaseline": "alphabetic", "titlePadding": 15.7}},
  "y": {"field": "I", "type": "quantitative", "scale": {"type": "log", "domain": [5.98, 3673], "range": [405, 51.7], "nice": false},
        "axis": {"orient": "right", "offset": -465.7, "ticks": false, "labels": false, "title": null}}
 }},
{"data": {"name": "B"}, "transform": [{"filter": "datum.series === 'Model'"}],
 "mark": {"type": "line", "color": "#ff0000", "strokeWidth": 1.8, "interpolate": "monotone"},
 "encoding": {
  "x": {"field": "q", "type": "quantitative", "scale": {"domain": [0.0745, 1.0214], "range": [567.7, 824.3], "nice": false, "zero": false},
        "axis": {"orient": "top", "offset": -51.7, "ticks": false, "labels": false, "title": "Empty Capsid", "titleFontSize": 20.7, "titleX": 689.5, "titleAlign": "center", "titleBaseline": "alphabetic", "titlePadding": 16.7}},
  "y": {"field": "I", "type": "quantitative", "scale": {"type": "log", "domain": [5.98, 3673], "range": [405, 51.7], "nice": false}, "axis": null}
 }},
{"data": {"name": "B"}, "transform": [{"filter": "datum.series === 'Signal'"}],
 "mark": {"type": "point", "shape": "triangle-down", "filled": true, "size": 15, "opacity": 1, "color": "#000000"},
 "encoding": {
  "x": {"field": "q", "type": "quantitative", "scale": {"domain": [0.0745, 1.0214], "range": [567.7, 824.3], "nice": false, "zero": false},
        "axis": {"orient": "bottom", "offset": -68, "values": [0.1,0.2,0.3,0.4,0.5,0.6,0.7,0.8,0.9,1.0],
                 "labelExpr": "round(datum.value*10) % 2 === 0 ? format(datum.value, '.1f') : ''",
                 "tickSize": {"condition": {"test": "round(datum.value*10) % 2 === 0", "value": 5}, "value": 3},
                 "labelFontSize": 17.5, "labelPadding": 6, "title": "q [nm⁻¹]", "titleFontSize": 20.5, "titlePadding": 11}},
  "y": {"field": "I", "type": "quantitative", "scale": {"type": "log", "domain": [5.98, 3673], "range": [405, 51.7], "nice": false},
        "axis": {"orient": "left", "offset": -567.7, "values": [6,7,8,9,10,20,30,40,50,60,70,80,90,100,200,300,400,500,600,700,800,900,1000,2000,3000],
                 "labels": false, "tickSize": {"condition": {"test": "abs(log(datum.value)/LN10 - round(log(datum.value)/LN10)) < 0.001", "value": 5}, "value": 3},
                 "title": "Intensity [a.u.]", "titleFontSize": 20.9, "titlePadding": 13.7, "titleY": 223.3}}
 }},
{"data": {"name": "Bp"},
 "mark": {"type": "line", "color": "#000000", "strokeWidth": 2, "interpolate": "monotone"},
 "encoding": {
  "x": {"field": "r", "type": "quantitative", "scale": {"domain": [-30, 30], "range": [679.3, 824.3], "nice": false, "zero": false},
        "axis": {"orient": "bottom", "offset": -199.7, "values": [-30,-20,-10,0,10,20,30],
                 "labelExpr": "datum.value % 20 === 0 ? '' + datum.value : ''",
                 "tickSize": {"condition": {"test": "datum.value % 20 === 0", "value": 4}, "value": 2.5},
                 "labelFontSize": 14.5, "labelPadding": 2.9, "title": "r [nm]", "titleFontSize": 20.5, "titlePadding": 5.1}},
  "y": {"field": "rho", "type": "quantitative", "scale": {"domain": [320, 390], "range": [273.3, 51.7], "nice": false, "zero": false},
        "axis": {"orient": "left", "offset": -679.3, "values": [320,330,340,350,360,370,380,390],
                 "labelExpr": "datum.value % 20 === 0 ? '' + datum.value : ''",
                 "tickSize": {"condition": {"test": "datum.value % 20 === 0", "value": 4}, "value": 2.5},
                 "labelFontSize": 14.5, "labelPadding": 2.6, "title": "Electron Density [e/nm³]", "titleFontSize": 18, "titlePadding": 3, "titleY": 160}}
 }},
{"data": {"name": "Bp"},
 "mark": {"type": "line", "opacity": 0},
 "encoding": {
  "x": {"field": "r", "type": "quantitative", "scale": {"domain": [-30, 30], "range": [679.3, 824.3], "nice": false, "zero": false},
        "axis": {"orient": "top", "offset": -51.7, "domain": false, "values": [-20,-10,0,10,20], "tickSize": -3, "labels": false, "title": null}},
  "y": {"field": "rho", "type": "quantitative", "scale": {"domain": [320, 390], "range": [273.3, 51.7], "nice": false, "zero": false},
        "axis": {"orient": "right", "offset": -465.7, "domain": false, "values": [330,340,350,360,370,380], "tickSize": -3, "labels": false, "title": null}}
 }},
{"data": {"name": "C"}, "transform": [{"filter": "datum.series === 'Background'"}],
 "mark": {"type": "line", "color": "#0000ff", "strokeWidth": 1, "strokeDash": [6, 2, 1.5, 2]},
 "encoding": {
  "x": {"field": "q", "type": "quantitative", "scale": {"domain": [0.0352, 1.277], "range": [1054, 1299], "nice": false, "zero": false},
        "axis": {"orient": "top", "offset": -53.3, "domain": false, "ticks": false, "labels": false, "title": "C.", "titleFontSize": 27, "titleX": 986, "titleAlign": "left", "titleBaseline": "alphabetic", "titlePadding": 26.6}},
  "y": {"field": "I", "type": "quantitative", "scale": {"type": "log", "domain": [2.66, 15280], "range": [408.3, 53.3], "nice": false}, "axis": null}
 }},
{"data": {"name": "C"}, "transform": [{"filter": "datum.series === 'Model'"}],
 "mark": {"type": "line", "color": "#ff0000", "strokeWidth": 1.2, "interpolate": "monotone"},
 "encoding": {
  "x": {"field": "q", "type": "quantitative", "scale": {"domain": [0.0352, 1.277], "range": [1054, 1299], "nice": false, "zero": false},
        "axis": {"orient": "top", "offset": -53.3, "ticks": false, "labels": false, "title": "VLP", "titleFontSize": 20.6, "titleX": 1166.2, "titleAlign": "center", "titleBaseline": "alphabetic", "titlePadding": 16.6}},
  "y": {"field": "I", "type": "quantitative", "scale": {"type": "log", "domain": [2.66, 15280], "range": [408.3, 53.3], "nice": false}, "axis": null}
 }},
{"data": {"name": "C"}, "transform": [{"filter": "datum.series === 'Signal'"}],
 "mark": {"type": "point", "shape": "triangle-down", "filled": true, "size": 16, "opacity": 1, "color": "#000000"},
 "encoding": {
  "x": {"field": "q", "type": "quantitative", "scale": {"domain": [0.0352, 1.277], "range": [1054, 1299], "nice": false, "zero": false},
        "axis": {"orient": "bottom", "offset": -64.7, "values": [0.25,0.5,0.75,1.0,1.25],
                 "labelExpr": "round(datum.value*4) % 2 === 0 ? format(datum.value, '.1f') : ''",
                 "tickSize": {"condition": {"test": "round(datum.value*4) % 2 === 0", "value": 5}, "value": 3},
                 "labelFontSize": 17, "labelPadding": 3.3, "title": "q [nm⁻¹]", "titleFontSize": 19, "titlePadding": 13.9}},
  "y": {"field": "I", "type": "quantitative", "scale": {"type": "log", "domain": [2.66, 15280], "range": [408.3, 53.3], "nice": false},
        "axis": {"orient": "left", "offset": -1054, "values": [3,4,5,6,7,8,9,10,20,30,40,50,60,70,80,90,100,200,300,400,500,600,700,800,900,1000,2000,3000,4000,5000,6000,7000,8000,9000,10000],
                 "labels": false, "tickSize": {"condition": {"test": "abs(log(datum.value)/LN10 - round(log(datum.value)/LN10)) < 0.001", "value": 5}, "value": 3},
                 "title": "Intensity [a.u.]", "titleFontSize": 18.7, "titlePadding": 16, "titleY": 238.3}}
 }},
{"data": {"name": "Cp"},
 "mark": {"type": "line", "color": "#000000", "strokeWidth": 1.2, "interpolate": "monotone"},
 "encoding": {
  "x": {"field": "r", "type": "quantitative", "scale": {"domain": [-30, 30], "range": [1160, 1299.2], "nice": false, "zero": false},
        "axis": {"orient": "bottom", "offset": -232, "values": [-30,-25,-20,-15,-10,-5,0,5,10,15,20,25,30],
                 "labelExpr": "datum.value % 10 === 0 && abs(datum.value) < 30 ? '' + datum.value : ''",
                 "tickSize": {"condition": {"test": "datum.value % 10 === 0", "value": 3}, "value": 2},
                 "labelFontSize": 9.5, "labelPadding": 2.5, "title": "r [nm]", "titleFontSize": 14, "titlePadding": 5, "domainWidth": 1.2}},
  "y": {"field": "rho", "type": "quantitative", "scale": {"domain": [330, 388.9], "range": [241, 53.3], "nice": false, "zero": false},
        "axis": {"orient": "left", "offset": -1160, "values": [330,335,340,345,350,355,360,365,370,375,380,385],
                 "labelExpr": "datum.value % 10 === 0 ? '' + datum.value : ''",
                 "tickSize": {"condition": {"test": "datum.value % 10 === 0", "value": 3}, "value": 2},
                 "labelFontSize": 9.5, "labelPadding": 3, "title": "Electron Density [e/nm³]", "titleFontSize": 14, "titlePadding": 3, "titleY": 159, "domainWidth": 1.2}}
 }},
{"data": {"name": "C"}, "transform": [{"filter": "datum.q < 0"}],
 "mark": {"type": "point", "filled": false, "strokeWidth": 1.2},
 "encoding": {
  "x": {"field": "q", "type": "quantitative", "scale": {"domain": [0.0352, 1.277], "range": [1054, 1299], "nice": false, "zero": false}, "axis": null},
  "y": {"field": "I", "type": "quantitative", "scale": {"type": "log", "domain": [2.66, 15280], "range": [408.3, 53.3], "nice": false}, "axis": null},
  "color": {"field": "series", "type": "nominal", "scale": {"domain": ["Signal", "Model", "Background"], "range": ["#000000", "#ff0000", "#0000ff"]},
            "legend": {"orient": "none", "legendX": 1067.5, "legendY": 357.4, "title": null, "padding": 0, "symbolSize": 225, "symbolStrokeWidth": 1.2, "labelFontSize": 13.2, "labelOffset": 8.5, "rowPadding": 2.4}},
  "shape": {"field": "series", "type": "nominal", "scale": {"domain": ["Signal", "Model", "Background"], "range": ["M-0.2,-0.15L0.2,-0.15L0,0.2Z", "M-2,0H2", "M-2,0H2"]},
            "legend": {"orient": "none", "legendX": 1067.5, "legendY": 357.4, "title": null, "padding": 0, "symbolSize": 225, "symbolStrokeWidth": 1.2, "labelFontSize": 13.2, "labelOffset": 8.5, "rowPadding": 2.4}},
  "strokeDash": {"field": "series", "type": "nominal", "scale": {"domain": ["Signal", "Model", "Background"], "range": [[1, 0], [1, 0], [5, 2, 1.5, 2]]},
            "legend": {"orient": "none", "legendX": 1067.5, "legendY": 357.4, "title": null, "padding": 0, "symbolSize": 225, "symbolStrokeWidth": 1.2, "labelFontSize": 13.2, "labelOffset": 8.5, "rowPadding": 2.4}}
 }}
],
"resolve": {"scale": {"x": "independent", "y": "independent", "color": "independent", "shape": "independent", "strokeDash": "independent"}, "axis": {"x": "independent", "y": "independent"}, "legend": {"color": "independent", "shape": "independent", "strokeDash": "independent"}}
}
